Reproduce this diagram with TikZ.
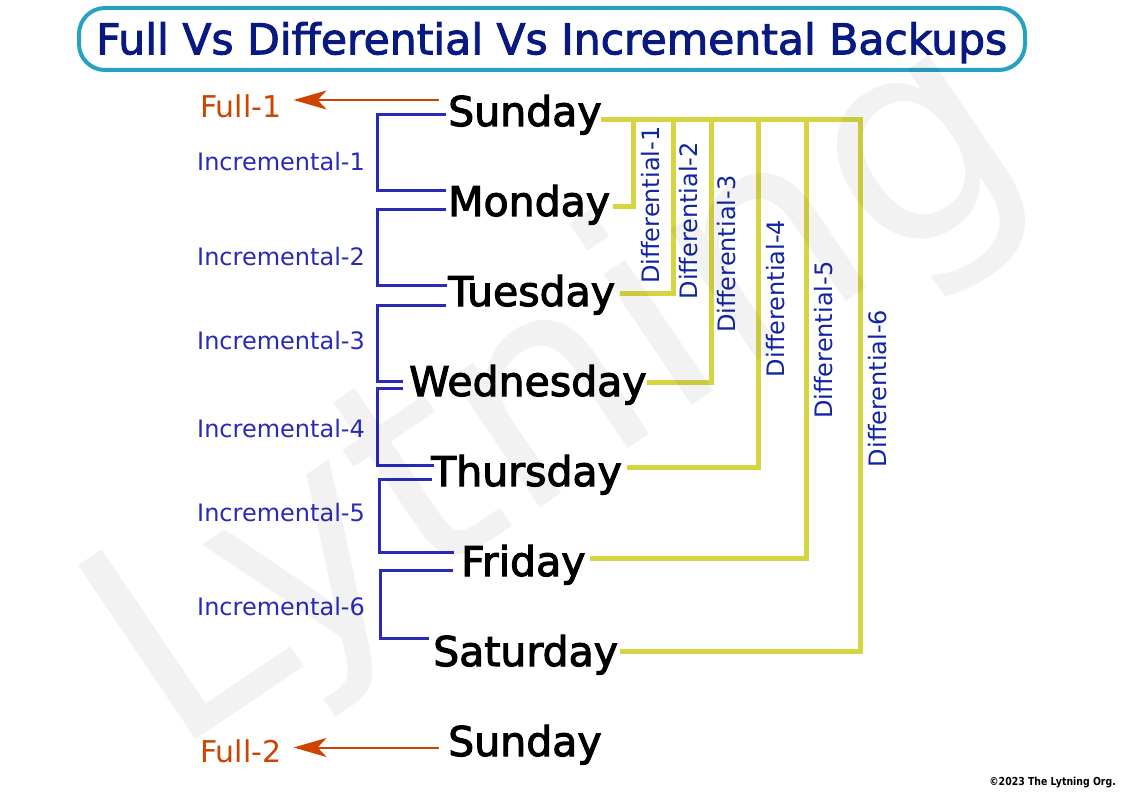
\documentclass[tikz,border=0pt]{standalone}
\usepackage{fontspec}
\setmainfont{DejaVu Sans}
\newfontfamily\heavyfont{DejaVu Sans}[FakeBold=2.6]
\newfontfamily\titlefont{DejaVu Sans}[FakeBold=2.2]
\usetikzlibrary{arrows.meta}
\definecolor{fullcol}{RGB}{204,68,0}
\definecolor{inccol}{RGB}{42,42,185}
\definecolor{difftext}{RGB}{18,36,165}
\definecolor{diffline}{RGB}{213,213,66}
\definecolor{titlecol}{RGB}{8,26,130}
\definecolor{boxcol}{RGB}{38,162,190}
\begin{document}
\begin{tikzpicture}[x=1pt,y=-1pt,
  day/.style={anchor=base west,inner sep=0pt,font=\heavyfont\fontsize{41}{48}\selectfont,text=black},
  fulllab/.style={anchor=base west,inner sep=0pt,font=\fontsize{30}{36}\selectfont,text=fullcol},
  inclab/.style={anchor=base west,inner sep=0pt,font=\fontsize{24}{29}\selectfont,text=inccol},
  difflab/.style={anchor=base west,inner sep=0pt,rotate=90,font=\fontsize{24}{29}\selectfont,text=difftext},
  fullarrow/.style={draw=fullcol,line width=2pt,-{Stealth[length=33pt,width=19pt,inset=9pt]}},
  incline/.style={draw=inccol,line width=3pt,line join=miter},
  diffconn/.style={draw=diffline,line width=5pt,line join=miter}
]
\useasboundingbox (0,0) rectangle (1123,794);
\fill[white] (0,0) rectangle (1123,794);

% title
\draw[boxcol,line width=4pt,rounded corners=26pt] (79,8) rectangle (1025,70);
\node[anchor=base,inner sep=0pt,font=\titlefont\fontsize{42.5}{50}\selectfont,text=titlecol] (title) at (551.7,54.3) {Full Vs Differential Vs Incremental Backups};

% days
\node[day] (sun1) at (448,126) {Sunday};
\node[day] (mon) at (448,216) {Monday};
\node[day] (tue) at (448,306) {Tuesday};
\node[day] (wed) at (409,396) {Wednesday};
\node[day] (thu) at (431,486) {Thursday};
\node[day] (fri) at (461,576) {Friday};
\node[day] (sat) at (433,666) {Saturday};
\node[day] (sun2) at (448,756) {Sunday};

% full labels and arrows
\node[fulllab] (fullone) at (200,117.3) {Full-1};
\node[fulllab] (fulltwo) at (200,762.7) {Full-2};
\coordinate (fa1) at (439,100);
\coordinate (fa2) at (439,747.5);
\draw[fullarrow] (fa1) -- ([xshift=12pt]fullone.east |- fa1);
\draw[fullarrow] (fa2) -- ([xshift=12pt]fulltwo.east |- fa2);

% incremental labels
\node[inclab] (inc1) at (197,171) {Incremental-1};
\node[inclab] (inc2) at (197,265) {Incremental-2};
\node[inclab] (inc3) at (197,349.3) {Incremental-3};
\node[inclab] (inc4) at (197,437.3) {Incremental-4};
\node[inclab] (inc5) at (197,521.3) {Incremental-5};
\node[inclab] (inc6) at (197,615) {Incremental-6};

% incremental brackets
\draw[incline] (446,115) -- (377.3,115) -- (377.3,190.7) -- (446,190.7);
\draw[incline] (446,209.3) -- (377.3,209.3) -- (377.3,285) -- (447,285);
\draw[incline] (446,305.7) -- (377.3,305.7) -- (377.3,381) -- (403.3,381);
\draw[incline] (403.3,388.5) -- (377.3,388.5) -- (377.3,465) -- (434,465);
\draw[incline] (431.7,479.3) -- (379,479.3) -- (379,552.7) -- (454,552.7);
\draw[incline] (453.3,570.3) -- (380,570.3) -- (380,638.3) -- (429.3,638.3);

% differential connectors
\draw[diffconn] (601,119.3) -- (860,119.3) -- (860,651) -- (620,651);
\draw[diffconn] (633.3,119.3) -- (633.3,206.7) -- (613,206.7);
\draw[diffconn] (673.3,119.3) -- (673.3,293.3) -- (620,293.3);
\draw[diffconn] (711.7,119.3) -- (711.7,382.7) -- (646.7,382.7);
\draw[diffconn] (758.3,119.3) -- (758.3,467.7) -- (626.7,467.7);
\draw[diffconn] (806,119.3) -- (806,558) -- (590,558);

% differential labels
\node[difflab] (d1) at (659,284) {Differential-1};
\node[difflab] (d2) at (697,299.5) {Differential-2};
\node[difflab] (d3) at (735.5,333) {Differential-3};
\node[difflab] (d4) at (784,377.3) {Differential-4};
\node[difflab] (d5) at (832,419) {Differential-5};
\node[difflab] (d6) at (886,467.3) {Differential-6};

% copyright
\node[anchor=base east,inner sep=0pt,font=\fontsize{11}{13}\selectfont\bfseries] (copy) at (1116,785) {\scalebox{0.85}[1]{©2023 The Lytning Org.}};

% watermark
\node[anchor=base west,inner sep=0pt,rotate=34,text=black,text opacity=0.05,font=\fontsize{288}{300}\selectfont] (wm) at (172,756) {Lytning};
\end{tikzpicture}
\end{document}
